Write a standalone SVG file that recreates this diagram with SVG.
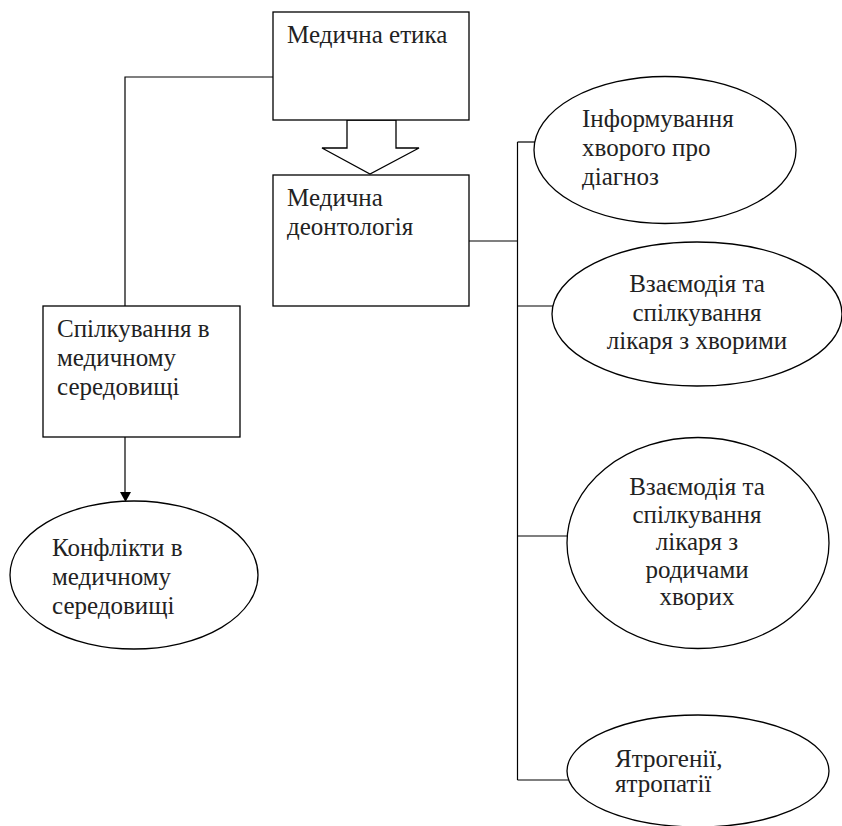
<svg xmlns="http://www.w3.org/2000/svg" width="842" height="826" viewBox="0 0 842 826">
<style>
.box{fill:#fff;stroke:#000;stroke-width:1.3}
.ell{fill:#fff;stroke:#000;stroke-width:1.3}
.ln{fill:none;stroke:#000;stroke-width:1.2}
text{font-family:'Liberation Serif','DejaVu Serif',serif;font-size:25px;fill:#222}
.c{text-anchor:middle}
</style>
<rect width="842" height="826" fill="#fff"/>
<g id="connectors">
<polyline class="ln" points="273,77 125,77 125,306"/>
<line class="ln" x1="125" y1="437" x2="125" y2="493"/>
<polygon points="120,492 131,492 125.5,502" fill="#000"/>
<line class="ln" x1="469" y1="241" x2="517.5" y2="241"/>
<line class="ln" x1="517.5" y1="142" x2="517.5" y2="780"/>
<line class="ln" x1="517.5" y1="142" x2="535" y2="142"/>
<line class="ln" x1="517.5" y1="306" x2="553" y2="306"/>
<line class="ln" x1="517.5" y1="536" x2="567.5" y2="536"/>
<line class="ln" x1="517.5" y1="780" x2="569" y2="780"/>
<polygon class="box" points="347,120 396,120 396,148 419,148 370,174 322,148 347,148"/>
</g>
<g id="node-ethics">
<rect class="box" x="273" y="12" width="196" height="108"/>
<text x="287" y="43">Медична етика</text>
</g>
<g id="node-deontology">
<rect class="box" x="273" y="175" width="196" height="131"/>
<text x="287" y="206">Медична</text>
<text x="287" y="235">деонтологія</text>
</g>
<g id="node-communication">
<rect class="box" x="43" y="306" width="197" height="131"/>
<text x="57" y="337">Спілкування в</text>
<text x="57" y="366">медичному</text>
<text x="57" y="395">середовищі</text>
</g>
<g id="node-conflicts">
<ellipse class="ell" cx="134" cy="575" rx="124" ry="74"/>
<text x="52" y="556">Конфлікти в</text>
<text x="52" y="585">медичному</text>
<text x="52" y="614">середовищі</text>
</g>
<g id="node-informing">
<ellipse class="ell" cx="665" cy="150" rx="131" ry="73.5"/>
<text x="582" y="127">Інформування</text>
<text x="582" y="156">хворого про</text>
<text x="582" y="185">діагноз</text>
</g>
<g id="node-patients">
<ellipse class="ell" cx="697" cy="314" rx="145" ry="72"/>
<text class="c" x="697" y="292">Взаємодія та</text>
<text class="c" x="697" y="320.5">спілкування</text>
<text class="c" x="697" y="349">лікаря з хворими</text>
</g>
<g id="node-relatives">
<ellipse class="ell" cx="698" cy="543" rx="131" ry="105.5"/>
<text class="c" x="697" y="495">Взаємодія та</text>
<text class="c" x="697" y="522.5">спілкування</text>
<text class="c" x="697" y="550">лікаря з</text>
<text class="c" x="697" y="577.5">родичами</text>
<text class="c" x="697" y="605">хворих</text>
</g>
<g id="node-iatrogeny">
<ellipse class="ell" cx="698" cy="771" rx="131" ry="56"/>
<text x="615" y="767">Ятрогенії,</text>
<text x="615" y="792">ятропатії</text>
</g>
</svg>
